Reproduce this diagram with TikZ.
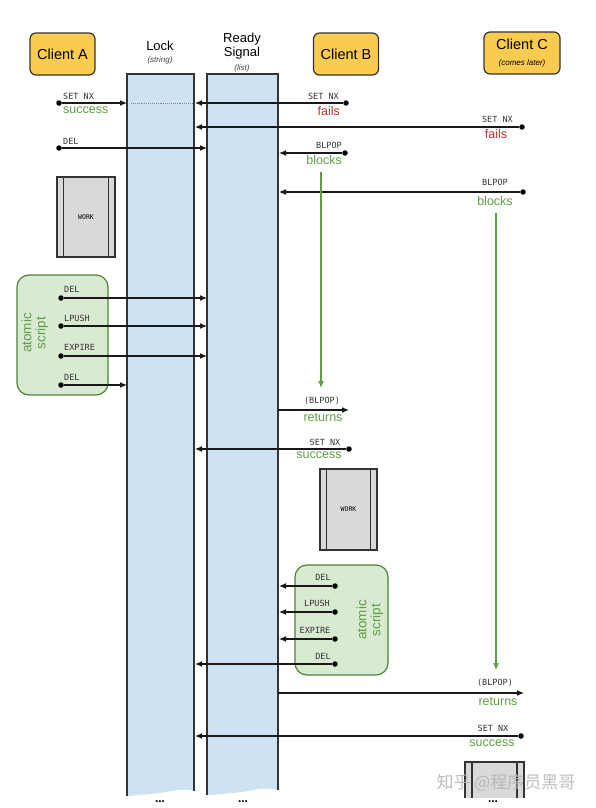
\documentclass[tikz,border=0pt]{standalone}
\usepackage{fontspec}
\setmainfont{Liberation Sans}
\newfontfamily\monof{DejaVu Sans Mono}
\newfontfamily\cjkf{Noto Sans CJK SC}
\usetikzlibrary{arrows.meta,calc}
\definecolor{cyellow}{HTML}{F9CB4E}
\definecolor{cblue}{HTML}{CFE2F3}
\definecolor{cgreenfill}{HTML}{D9EAD3}
\definecolor{cgreen}{HTML}{5E9E45}
\definecolor{cgborder}{HTML}{4F7F3A}
\definecolor{cred}{HTML}{B83232}
\definecolor{cline}{HTML}{333333}
\definecolor{cwork}{HTML}{D9D9D9}
\tikzset{
  client/.style={draw=cline, line width=1.2pt, fill=cyellow, rounded corners=6pt,
    minimum width=65pt, minimum height=42pt, align=center, inner sep=0pt,
    font=\fontsize{14.5}{16}\selectfont},
  head/.style={font=\fontsize{13}{14}\selectfont, inner sep=0pt},
  sub/.style={font=\fontsize{8}{9}\selectfont\itshape, inner sep=0pt, text=black!75},
  cmd/.style={font=\monof\fontsize{8.5}{9}\selectfont, inner sep=0pt, text=black!80},
  ok/.style={font=\fontsize{12.5}{13}\selectfont, inner sep=0pt, text=cgreen},
  bad/.style={font=\fontsize{12.5}{13}\selectfont, inner sep=0pt, text=cred},
  msg/.style={draw=black!90, line width=1.2pt, -{Latex[length=7pt,width=6pt]}},
  waitline/.style={draw=cgreen, line width=1.1pt, -{Latex[length=7pt,width=6pt]}},
  dot/.style={circle, fill=black, inner sep=0pt, minimum size=5.5pt},
  workbox/.style={draw=cline, line width=1.2pt, fill=cwork, inner sep=0pt,
    font=\monof\fontsize{6.5}{7}\selectfont},
  scriptbox/.style={draw=cgborder, line width=1.2pt, fill=cgreenfill, rounded corners=12pt, inner sep=0pt},
  scripttext/.style={font=\fontsize{13.5}{14}\selectfont, text=cgreen, align=center, rotate=90, inner sep=0pt},
  colborder/.style={draw=cline, line width=1.3pt},
}
\begin{document}
\begin{tikzpicture}[x=1pt, y=-1pt]
\useasboundingbox (0,0) rectangle (595,808);

% columns
\fill[cblue] (127,74) -- (194,74) -- (194,791) .. controls (180,787) and (168,793) .. (150,794) .. controls (140,795) and (132,796) .. (127,796) -- cycle;
\draw[colborder] (127,796) -- (127,74) -- (194,74) -- (194,791);
\fill[cblue] (207,74) -- (278,74) -- (278,790) .. controls (262,786) and (250,792) .. (232,793) .. controls (222,794) and (213,795) .. (207,795) -- cycle;
\draw[colborder] (207,795) -- (207,74) -- (278,74) -- (278,790);
\draw[densely dotted, draw=black!40!cblue, line width=0.9pt] (131,103) -- (192,103);

% headers
\node[client] (ca) at (62.5,54) {Client A};
\node[client] (cb) at (346,54) {Client B};
\node[client, minimum width=76pt] (cc) at (522,53) {Client C\\[0pt]{\fontsize{8}{9}\selectfont\itshape (comes later)}};
\node[head] (hlock) at (160,46) {Lock};
\node[sub] (hlocks) at (160,60) {(string)};
\node[head] (hready) at (242,39) {Ready};
\node[head] (hsignal) at (242,53) {Signal};
\node[sub] (hlist) at (242,68) {(list)};

% Client A SET NX
\node[dot] (sA1) at (59,103) {};
\coordinate (eA1) at (127,103);
\draw[msg] (sA1) -- (eA1);
\node[cmd, anchor=west] (lA1) at (63,96.5) {SET NX};
\node[ok, anchor=west] (rA1) at (63,110) {success};

% Client B SET NX
\node[dot] (sB1) at (346,103) {};
\coordinate (eB1) at (195,103);
\draw[msg] (sB1) -- (eB1);
\node[cmd, anchor=east] (lB1) at (339,96.5) {SET NX};
\node[bad, anchor=east] (rB1) at (340,111) {fails};

% Client C SET NX
\node[dot] (sC1) at (522,127) {};
\coordinate (eC1) at (195,127);
\draw[msg] (sC1) -- (eC1);
\node[cmd, anchor=east] (lC1) at (513,119) {SET NX};
\node[bad] (rC1) at (496,134) {fails};

% Client A DEL
\node[dot] (sA2) at (59,148) {};
\coordinate (eA2) at (207,148);
\draw[msg] (sA2) -- (eA2);
\node[cmd, anchor=west] (lA2) at (63,141) {DEL};

% Client B BLPOP
\node[dot] (sB2) at (345,153) {};
\coordinate (eB2) at (279,153);
\draw[msg] (sB2) -- (eB2);
\node[cmd, anchor=east] (lB2) at (342,145) {BLPOP};
\node[ok, anchor=east] (rB2) at (342,160) {blocks};

% Client C BLPOP
\node[dot] (sC2) at (523,192) {};
\coordinate (eC2) at (279,192);
\draw[msg] (sC2) -- (eC2);
\node[cmd] (lC2) at (495,182) {BLPOP};
\node[ok] (rC2) at (495,201) {blocks};

% waiting lines
\coordinate (wB1) at (321,172);
\coordinate (wB2) at (321,388);
\draw[waitline] (wB1) -- (wB2);
\coordinate (wC1) at (496,213);
\coordinate (wC2) at (496,670);
\draw[waitline] (wC1) -- (wC2);

% WORK A
\node[workbox, minimum width=58pt, minimum height=80pt] (wkA) at (86,217) {WORK};
\draw[colborder] ([xshift=7pt]wkA.north west) -- ([xshift=7pt]wkA.south west);
\draw[colborder] ([xshift=-7pt]wkA.north east) -- ([xshift=-7pt]wkA.south east);

% atomic script A
\node[scriptbox, minimum width=91pt, minimum height=120pt] (asA) at (62.5,335) {};
\node[scripttext] (asAt) at (35,333) {atomic\\script};
\node[dot] (sA3) at (61,298) {};
\coordinate (eA3) at (207,298);
\draw[msg] (sA3) -- (eA3);
\node[cmd, anchor=west] (lA3) at (64,289) {DEL};
\node[dot] (sA4) at (61,326) {};
\coordinate (eA4) at (207,326);
\draw[msg] (sA4) -- (eA4);
\node[cmd, anchor=west] (lA4) at (64,318) {LPUSH};
\node[dot] (sA5) at (61,356) {};
\coordinate (eA5) at (207,356);
\draw[msg] (sA5) -- (eA5);
\node[cmd, anchor=west] (lA5) at (64,347) {EXPIRE};
\node[dot] (sA6) at (61,385) {};
\coordinate (eA6) at (127,385);
\draw[msg] (sA6) -- (eA6);
\node[cmd, anchor=west] (lA6) at (64,377) {DEL};

% Client B returns
\coordinate (sB3) at (278,410);
\coordinate (eB3) at (349,410);
\draw[msg] (sB3) -- (eB3);
\node[cmd] (lB3) at (322,401) {(BLPOP)};
\node[ok] (rB3) at (323,418) {returns};

% Client B SET NX success
\node[dot] (sB4) at (349,449) {};
\coordinate (eB4) at (195,449);
\draw[msg] (sB4) -- (eB4);
\node[cmd] (lB4) at (325,442) {SET NX};
\node[ok] (rB4) at (319,455) {success};

% WORK B
\node[workbox, minimum width=57pt, minimum height=81pt] (wkB) at (348.5,509.5) {WORK};
\draw[colborder] ([xshift=7pt]wkB.north west) -- ([xshift=7pt]wkB.south west);
\draw[colborder] ([xshift=-7pt]wkB.north east) -- ([xshift=-7pt]wkB.south east);

% atomic script B
\node[scriptbox, minimum width=93pt, minimum height=110pt] (asB) at (341.5,620) {};
\node[scripttext] (asBt) at (370,620) {atomic\\script};
\node[dot] (sB5) at (335,586) {};
\coordinate (eB5) at (279,586);
\draw[msg] (sB5) -- (eB5);
\node[cmd] (lB5) at (323,577) {DEL};
\node[dot] (sB6) at (335,612) {};
\coordinate (eB6) at (279,612);
\draw[msg] (sB6) -- (eB6);
\node[cmd] (lB6) at (317,603) {LPUSH};
\node[dot] (sB7) at (335,639) {};
\coordinate (eB7) at (279,639);
\draw[msg] (sB7) -- (eB7);
\node[cmd] (lB7) at (315,630) {EXPIRE};
\node[dot] (sB8) at (335,664) {};
\coordinate (eB8) at (195,664);
\draw[msg] (sB8) -- (eB8);
\node[cmd] (lB8) at (323,656) {DEL};

% Client C returns
\coordinate (sC3) at (278,693);
\coordinate (eC3) at (524,693);
\draw[msg] (sC3) -- (eC3);
\node[cmd] (lC3) at (495,683) {(BLPOP)};
\node[ok] (rC3) at (498,702) {returns};

% Client C SET NX success
\node[dot] (sC4) at (521,736) {};
\coordinate (eC4) at (195,736);
\draw[msg] (sC4) -- (eC4);
\node[cmd] (lC4) at (493,728) {SET NX};
\node[ok] (rC4) at (492,743) {success};

% WORK C (cut off by the page edge)
\fill[cwork] (465,762) rectangle (524,798);
\draw[colborder] (465,798) -- (465,762) -- (524,762) -- (524,798);
\draw[colborder] (472,762) -- (472,798);
\draw[colborder] (517,762) -- (517,798);

% continuation dots
\node[font=\bfseries\fontsize{12}{12}\selectfont, inner sep=0pt, anchor=north] (dl) at (160,801) {...};
\node[font=\bfseries\fontsize{12}{12}\selectfont, inner sep=0pt, anchor=north] (dr) at (243,801) {...};
\node[font=\bfseries\fontsize{12}{12}\selectfont, inner sep=0pt, anchor=north] (dc) at (493,801) {...};

% watermark
\node[font=\cjkf\fontsize{17}{18}\selectfont, text=black!30, inner sep=0pt, opacity=0.85] (wm) at (506,783) {知乎 @程序员黑哥};
\end{tikzpicture}
\end{document}
